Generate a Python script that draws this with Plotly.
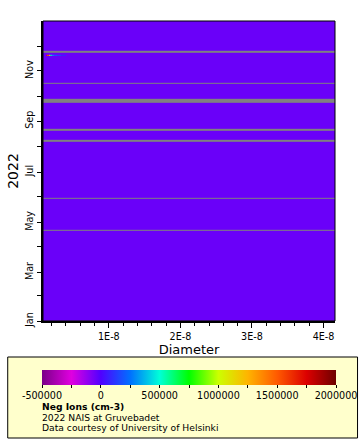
import pandas as pd
import plotly.graph_objects as go

# ---------------- data ----------------
# diameter bin edges (nm)
diam_edges_nm = [0.8, 1.0, 1.2, 1.4, 1.6, 1.8, 2.0, 2.4, 2.8, 3.3, 4.0, 41.6]
# typical (background) concentration over the whole year
background_value = -45000

# periods without data (shown in grey)
gap_starts = ["2022-04-20 06:00", "2022-05-29 12:00", "2022-08-07 00:00",
              "2022-08-20 10:00", "2022-09-23 10:00", "2022-10-16 12:00",
              "2022-11-23 00:00"]
gap_ends = ["2022-04-21 12:00", "2022-05-30 12:00", "2022-08-09 00:00",
            "2022-08-22 12:00", "2022-09-27 22:00", "2022-10-17 12:00",
            "2022-11-25 12:00"]

# short events with elevated small-ion concentrations
event_starts = ["2022-11-19 12:00", "2022-12-02 06:00"]
event_ends = ["2022-11-21 00:00", "2022-12-03 00:00"]
event_profiles = [
    [-45000, -45000, 1700000, 1550000, 1050000, 550000, 300000, 200000, 150000, 80000, -45000],
    [100000, 100000, 100000, 80000, 80000, 60000, 50000, 40000, -45000, -45000, -45000],
]

year_start = "2022-01-01"
year_end = "2022-12-31 18:00:00"

y_tickvals = ["2022-01-01", "2022-03-01", "2022-05-01", "2022-07-01",
              "2022-09-01", "2022-11-01"]
y_ticktext = ["Jan", "Mar", "May", "Jul", "Sep", "Nov"]

cbar_tickvals = [-500000, -250000, 0, 250000, 500000, 750000, 1000000,
                 1250000, 1500000, 1750000, 2000000]
cbar_ticktext = ["-500000", "", "0", "", "500000", "", "1000000", "",
                 "1500000", "", "2000000"]

x_tickvals = [1e-8, 2e-8, 3e-8, 4e-8]
x_ticktext = ["1E-8", "2E-8", "3E-8", "4E-8"]

info_lines = ["<b>Neg Ions (cm-3)</b>", "2022 NAIS at Gruvebadet",
              "Data courtesy of University of Helsinki"]

# ---------------- build grid ----------------
x_edges = [d * 1e-9 for d in diam_edges_nm]
nbins = len(diam_edges_nm) - 1

bounds = sorted(set([pd.Timestamp(year_start), pd.Timestamp("2023-01-01")]
                    + [pd.Timestamp(t) for t in gap_starts + gap_ends + event_starts + event_ends]))
gaps = [(pd.Timestamp(a), pd.Timestamp(b)) for a, b in zip(gap_starts, gap_ends)]
events = [(pd.Timestamp(a), pd.Timestamp(b), p) for a, b, p in zip(event_starts, event_ends, event_profiles)]

z = []
for a, b in zip(bounds[:-1], bounds[1:]):
    row = [background_value] * nbins
    for g0, g1 in gaps:
        if a >= g0 and b <= g1:
            row = [None] * nbins
    for e0, e1, prof in events:
        if a >= e0 and b <= e1:
            row = list(prof)
    z.append(row)
y_edges = [t.strftime("%Y-%m-%d %H:%M:%S") for t in bounds]

colorscale = [
    [0.0, "#7a0088"], [0.1, "#e000e0"], [0.2, "#5000ff"], [0.3, "#0070ff"],
    [0.4, "#00ffd8"], [0.5, "#00ff00"], [0.6, "#ccff00"], [0.7, "#ffb400"],
    [0.8, "#ff5a00"], [0.9, "#dc0000"], [1.0, "#6e0000"],
]

FONT = "DejaVu Sans"

W, H = 360, 440
ml, mr, mt, mb = 37, 25, 21, 119
pw, ph = W - ml - mr, H - mt - mb


def px(xp):
    return (xp - ml) / pw


def py(yp):
    return (H - mb - yp) / ph


fig = go.Figure()
fig.add_trace(go.Heatmap(
    x=x_edges, y=y_edges, z=z,
    zmin=-500000, zmax=2000000, colorscale=colorscale,
    zsmooth=False, hoverongaps=False,
    colorbar=dict(
        orientation="h", x=px(186), xanchor="center", y=py(369.5), yanchor="top",
        len=294, lenmode="pixels", thickness=15, thicknessmode="pixels",
        outlinewidth=0, xpad=0, ypad=0,
        tickmode="array", tickvals=cbar_tickvals, ticktext=cbar_ticktext,
        ticks="outside", ticklen=3, tickcolor="black", tickwidth=1,
        tickfont=dict(family=FONT, size=9.6, color="black"),
    ),
))

annotations = []
for txt, yc in zip(info_lines, [406.8, 417.2, 427.6]):
    annotations.append(dict(
        xref="paper", yref="paper", x=px(35), y=py(yc), xanchor="left",
        yanchor="middle", showarrow=False, text=txt, borderpad=0,
        font=dict(size=9.2)))

fig.update_layout(
    width=W, height=H,
    margin=dict(l=ml, r=mr, t=mt, b=mb, pad=0),
    paper_bgcolor="white", plot_bgcolor="#808080",
    font=dict(family=FONT, size=10, color="black"),
    showlegend=False,
    xaxis=dict(
        range=[x_edges[0], x_edges[-1]], showgrid=False, zeroline=False,
        tickmode="array", tickvals=x_tickvals, ticktext=x_ticktext,
        ticks="outside", ticklen=5, tickcolor="black", tickwidth=1,
        tickfont=dict(size=9.6),
        showline=True, linecolor="black", linewidth=2,
        minor=dict(dtick=2e-9, tick0=0, ticks="outside", ticklen=3,
                   tickcolor="black", tickwidth=1),
        title=dict(text="Diameter", font=dict(size=13), standoff=2),
    ),
    yaxis=dict(
        type="date", range=[year_start, year_end], showgrid=False, zeroline=False,
        tickmode="array", tickvals=y_tickvals, ticktext=y_ticktext, tickangle=-90,
        ticks="outside", ticklen=4, tickcolor="black", tickwidth=1,
        tickfont=dict(size=9.6),
        showline=True, linecolor="black", linewidth=2,
        minor=dict(tick0=year_start, dtick="M1", ticks="outside", ticklen=4,
                   tickcolor="black", tickwidth=1),
        title=dict(text="2022", font=dict(size=14), standoff=2),
    ),
    shapes=[
        dict(type="rect", xref="paper", yref="paper",
             x0=px(1), x1=px(358), y0=py(438), y1=py(357),
             fillcolor="#ffffcc", line=dict(color="black", width=1), layer="below"),
        dict(type="rect", xref="paper", yref="paper", x0=0, x1=1, y0=0, y1=1,
             fillcolor="rgba(0,0,0,0)", line=dict(color="black", width=1), layer="above"),
    ],
    annotations=annotations,
)

fig.write_html("out.html")
